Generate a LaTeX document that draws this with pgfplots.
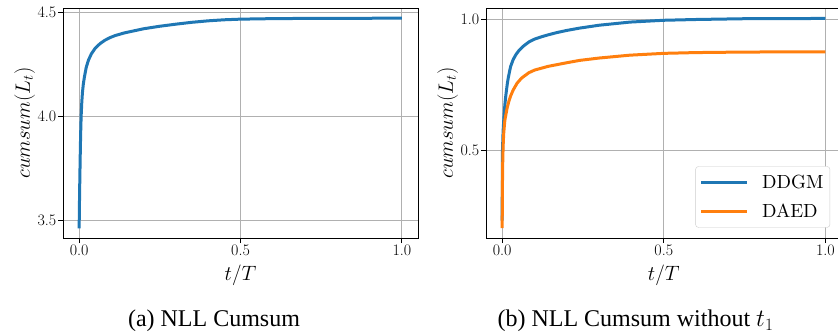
\documentclass[border=0pt]{standalone}
\usepackage{pgfplots}
\pgfplotsset{compat=1.18}
\usepackage{fontspec}
\newfontfamily\timesfont{Liberation Serif}
\newfontfamily\lmten{lmroman10-regular}[Extension=.otf]
\definecolor{tabblue}{HTML}{1F77B4}
\definecolor{taborange}{HTML}{FF7F0E}
\pgfplotsset{
  mystyle/.style={
    scale only axis,
    height=229.7pt,
    xmin=-0.05, xmax=1.05,
    grid=major,
    major grid style={color=black!31, line width=0.8pt},
    axis line style={line width=0.9pt},
    tick align=outside,
    tick pos=left,
    major tick length=5pt,
    tick style={black, line width=0.8pt},
    ticklabel style={font=\fontsize{16}{16}\selectfont},
    yticklabel style={inner sep=1.5pt},
    xticklabel style={inner sep=2pt},
    xtick={0,0.5,1}, xticklabels={0.0,0.5,1.0},
    every axis x label/.style={at={(axis description cs:0.5,-0.161)}, anchor=center, font=\fontsize{20.5}{24}\selectfont},
    every axis y label/.style={at={(axis description cs:-0.108,0.5)}, rotate=90, anchor=center, font=\fontsize{20.5}{24}\selectfont},
    xlabel={$t/T$},
    ylabel={$cumsum(L_t)$},
    every axis plot/.append style={line width=3pt, line join=round, line cap=butt, no markers},
  }
}
\begin{document}
\begin{tikzpicture}
\useasboundingbox (0,0) rectangle (838pt,333pt);
\begin{axis}[mystyle,
  at={(63pt,95pt)}, anchor=south west,
  width=355pt,
  ymin=3.417, ymax=4.518,
  ytick={3.5,4,4.5}, yticklabels={3.5,4.0,4.5},
]
\addplot[tabblue] table {
x y
0 3.463
0.0015 3.64
0.0031 3.79
0.0046 3.91
0.0062 4.0
0.0083 4.07
0.0103 4.115
0.0130 4.155
0.0165 4.19
0.022 4.235
0.029 4.27
0.038 4.30
0.05 4.327
0.065 4.349
0.08 4.365
0.095 4.377
0.111 4.387
0.14 4.400
0.17 4.410
0.2 4.420
0.25 4.432
0.3 4.442
0.35 4.451
0.4 4.458
0.45 4.463
0.5 4.466
0.6 4.4685
0.7 4.4695
0.85 4.4702
1.0 4.4705
};
\end{axis}
\begin{axis}[mystyle,
  at={(486pt,95pt)}, anchor=south west,
  width=355.5pt,
  ymin=0.162, ymax=1.044,
  ytick={0.5,1}, yticklabels={0.5,1.0},
  legend style={at={(0.968,0.045)}, anchor=south east,
    draw=black!20, rounded corners=3pt, fill=white,
    font=\lmten\fontsize{19}{19}\selectfont,
    inner xsep=4pt, inner ysep=6pt, row sep=9pt,
    nodes={inner sep=2.5pt, anchor=west, font=\lmten\fontsize{19}{19}\selectfont}},
  legend cell align=left,
  legend image code/.code={\draw[#1, line width=3pt] (0pt,0pt) -- (46pt,0pt); \path (57pt,0pt);},
]
\addplot[tabblue] table {
x y
0 0.229
0.0005 0.40
0.001 0.50
0.003 0.575
0.006 0.635
0.0085 0.675
0.0105 0.700
0.0124 0.720
0.016 0.755
0.019 0.778
0.026 0.820
0.034 0.847
0.043 0.867
0.052 0.882
0.065 0.898
0.083 0.915
0.101 0.926
0.12 0.934
0.142 0.942
0.17 0.951
0.2 0.959
0.24 0.968
0.3 0.979
0.395 0.991
0.5 0.998
0.6 1.001
0.75 1.004
1.0 1.005
};
\addlegendentry{DDGM}
\addplot[taborange] table {
x y
0 0.200
0.001 0.38
0.002 0.47
0.0035 0.53
0.005 0.567
0.0084 0.615
0.0155 0.662
0.021 0.688
0.026 0.707
0.034 0.730
0.046 0.756
0.06 0.776
0.083 0.797
0.101 0.807
0.142 0.821
0.2 0.835
0.24 0.844
0.3 0.853
0.395 0.864
0.5 0.871
0.6 0.874
0.75 0.876
1.0 0.877
};
\addlegendentry{DAED}
\end{axis}
\node[anchor=base, font=\timesfont\fontsize{24}{24}\selectfont] at (214pt,6.3pt) {(a) NLL Cumsum};
\node[anchor=base, font=\timesfont\fontsize{24}{24}\selectfont] at (635.5pt,6.3pt) {(b) NLL Cumsum without $t_1$};
\end{tikzpicture}
\end{document}
